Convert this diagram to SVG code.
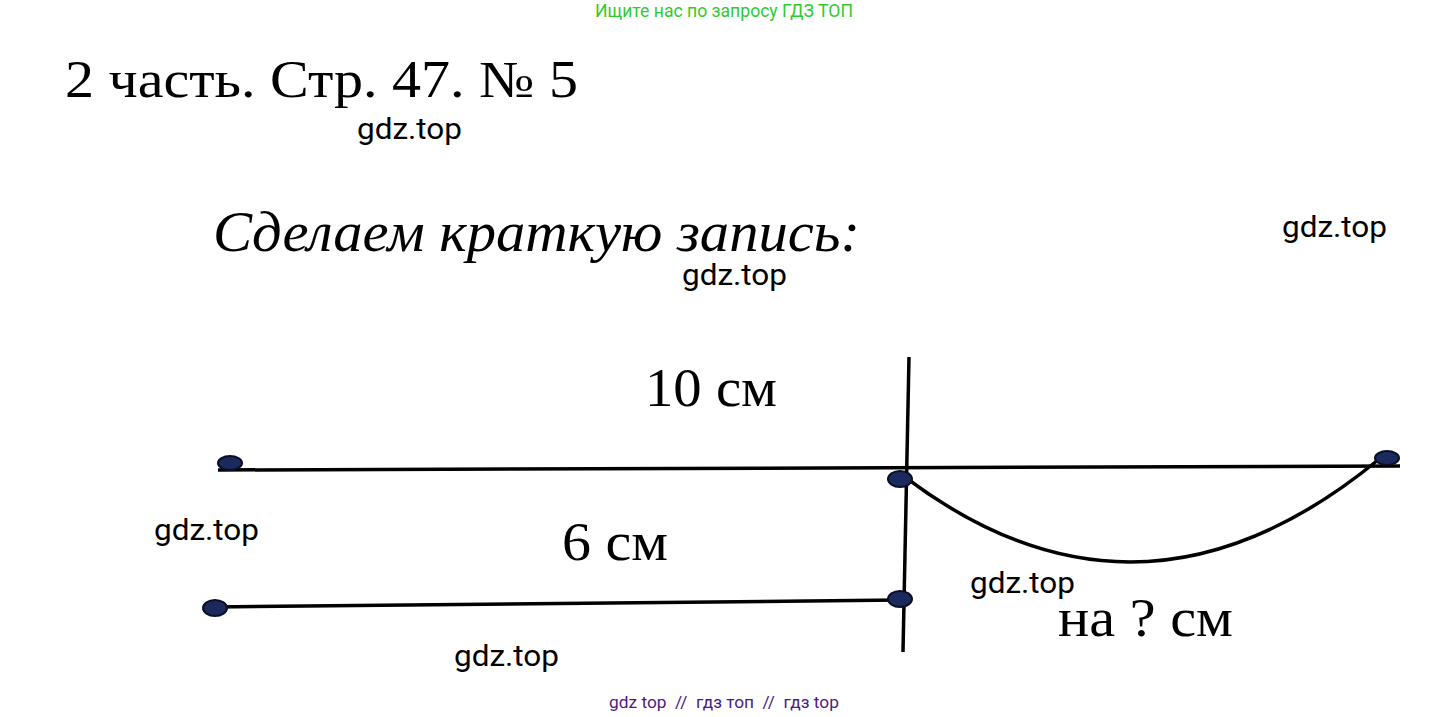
<svg xmlns="http://www.w3.org/2000/svg" width="1449" height="717" viewBox="0 0 1449 717">
<style>
.ser{font-family:"Liberation Serif","DejaVu Serif",serif;fill:#000}
.wm{font-family:Roboto,"Liberation Sans",sans-serif;font-size:30px;fill:#000}
.ln{stroke:#000;stroke-width:3.5;fill:none}
.dot{fill:#1b2a5e;stroke:#0a0f25;stroke-width:2}
</style>
<rect width="1449" height="717" fill="#fff"/>
<text x="724" y="17" text-anchor="middle" style="font-family:Roboto,'Liberation Sans',sans-serif;font-size:17.6px;fill:#2ecc2e">Ищите нас по запросу ГДЗ ТОП</text>
<text x="65" y="97" class="ser" font-size="52" textLength="513" lengthAdjust="spacingAndGlyphs">2 часть. Стр. 47. № 5</text>
<text x="213" y="251" class="ser" font-size="56" font-style="italic" textLength="647" lengthAdjust="spacingAndGlyphs">Сделаем краткую запись:</text>
<g id="watermarks">
<text x="357" y="139" class="wm" textLength="105" lengthAdjust="spacingAndGlyphs">gdz.top</text>
<text x="1282" y="237" class="wm" textLength="105" lengthAdjust="spacingAndGlyphs">gdz.top</text>
<text x="682" y="285" class="wm" textLength="105" lengthAdjust="spacingAndGlyphs">gdz.top</text>
<text x="154" y="540" class="wm" textLength="105" lengthAdjust="spacingAndGlyphs">gdz.top</text>
<text x="970" y="593" class="wm" textLength="105" lengthAdjust="spacingAndGlyphs">gdz.top</text>
<text x="454" y="666" class="wm" textLength="105" lengthAdjust="spacingAndGlyphs">gdz.top</text>
</g>
<g id="connectors">
<path class="ln" d="M218 470 L1400 466"/>
<path class="ln" d="M909 357 L903 652"/>
<path class="ln" d="M213 607 L900 600"/>
<path class="ln" d="M905 477 Q1140 655 1378 460"/>
</g>
<g id="dots">
<ellipse id="d1" class="dot" cx="230" cy="463" rx="12" ry="7"/>
<ellipse id="d2" class="dot" cx="900" cy="479" rx="12" ry="8"/>
<ellipse id="d3" class="dot" cx="1387" cy="458" rx="12" ry="7"/>
<ellipse id="d4" class="dot" cx="215" cy="608" rx="12" ry="8"/>
<ellipse id="d5" class="dot" cx="900" cy="599" rx="12" ry="8"/>
</g>
<g id="labels">
<text x="645" y="406" class="ser" font-size="54" textLength="132" lengthAdjust="spacingAndGlyphs">10 см</text>
<text x="562" y="560" class="ser" font-size="54" textLength="106" lengthAdjust="spacingAndGlyphs">6 см</text>
<text x="1058" y="636" class="ser" font-size="54" textLength="175" lengthAdjust="spacingAndGlyphs">на ? см</text>
</g>
<text x="724" y="708" text-anchor="middle" style="font-family:Roboto,'Liberation Sans',sans-serif;font-size:17.3px;fill:#4b1a8a" xml:space="preserve">gdz top  //  гдз топ  //  гдз top</text>
</svg>
